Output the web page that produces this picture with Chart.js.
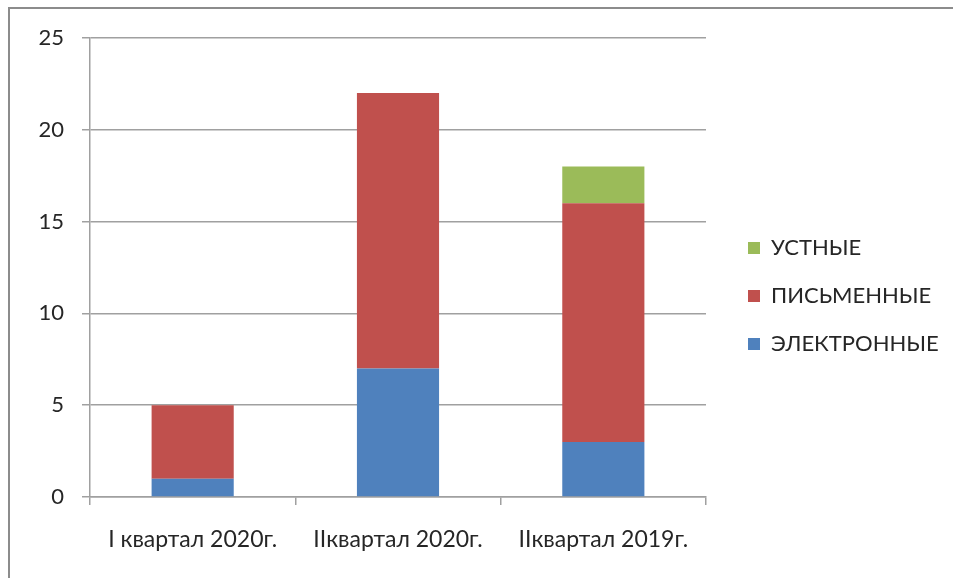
<!DOCTYPE html>
<html>
<head>
<meta charset="utf-8">
<script src="https://cdn.jsdelivr.net/npm/chart.js@4"></script>
<style>
  body { margin: 0; background: #fff; }
  #frame { position: absolute; left: 8px; top: 7px; width: 960px; height: 600px;
           border-top: 2px solid #8c8c8c; border-left: 2px solid #8c8c8c; }
  #wrap { position: absolute; left: 0; top: 0; width: 953px; height: 578px; }
</style>
</head>
<body>
<div id="frame"></div>
<div id="wrap"><canvas id="myChart"></canvas></div>
<script>
// chart data
const categories = ['I квартал 2020г.', 'IIквартал 2020г.', 'IIквартал 2019г.'];
const electronic = [1, 7, 3];
const written = [4, 15, 13];
const oral = [0, 0, 2];
const yMax = 25;
const yStep = 5;

const textColor = '#262626';
const gridColor = '#a0a0a0';

Chart.defaults.font.family = 'Lato, "Open Sans", sans-serif';
Chart.defaults.font.size = 22;
Chart.defaults.color = textColor;

// fixes the legend box width and nudges it right, so the plot keeps its size
const legendPlace = {
  id: 'legendPlace',
  beforeLayout(chart) {
    const lg = chart.legend;
    if (lg && !lg._fixedFit) {
      const fit = lg.fit.bind(lg);
      lg.fit = function () { fit(); this.width = 247; };
      lg._fixedFit = true;
    }
  },
  afterLayout(chart) {
    chart.legend.left += 16;
    chart.legend.right += 16;
  }
};

new Chart(document.getElementById('myChart'), {
  type: 'bar',
  data: {
    labels: categories,
    datasets: [
      { label: 'ЭЛЕКТРОННЫЕ', data: electronic, backgroundColor: '#4f81bd' },
      { label: 'ПИСЬМЕННЫЕ', data: written, backgroundColor: '#c0504d' },
      { label: 'УСТНЫЕ', data: oral, backgroundColor: '#9bbb59' }
    ]
  },
  plugins: [legendPlace],
  options: {
    responsive: true,
    maintainAspectRatio: false,
    animation: false,
    layout: { padding: { top: 38, left: 0, right: 0, bottom: 24 } },
    datasets: { bar: { categoryPercentage: 1, barPercentage: 0.4, borderWidth: 0 } },
    plugins: {
      tooltip: { enabled: false },
      legend: {
        position: 'right',
        reverse: true,
        labels: { boxWidth: 12, boxHeight: 12, padding: 26, font: { size: 22 }, color: textColor }
      }
    },
    scales: {
      x: {
        stacked: true,
        grid: { drawOnChartArea: false, drawTicks: true, tickLength: 8, color: gridColor, lineWidth: 1.5 },
        border: { color: gridColor, width: 1.5 },
        ticks: { padding: 21, maxRotation: 0, font: { size: 23 } },
        afterFit: s => { s.height = 57; }
      },
      y: {
        stacked: true,
        min: 0,
        max: yMax,
        ticks: { stepSize: yStep, padding: 18 },
        grid: { color: gridColor, lineWidth: 1.5, tickLength: 8 },
        border: { color: gridColor, width: 1.5 },
        afterFit: s => { s.width = 90; }
      }
    }
  }
});
</script>
</body>
</html>
